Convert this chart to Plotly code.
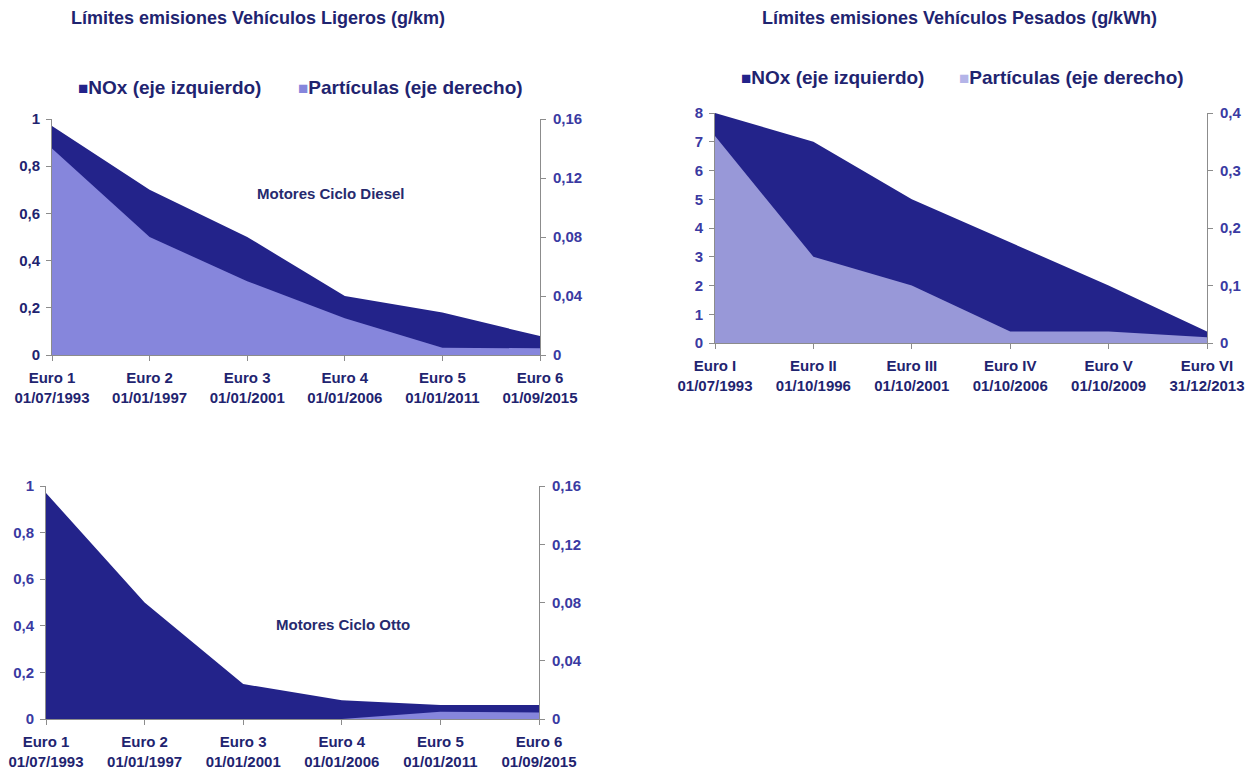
import plotly.graph_objects as go

# ---------------- data ----------------
light_cats = ["Euro 1<br>01/07/1993", "Euro 2<br>01/01/1997", "Euro 3<br>01/01/2001",
              "Euro 4<br>01/01/2006", "Euro 5<br>01/01/2011", "Euro 6<br>01/09/2015"]
heavy_cats = ["Euro I<br>01/07/1993", "Euro II<br>01/10/1996", "Euro III<br>01/10/2001",
              "Euro IV<br>01/10/2006", "Euro V<br>01/10/2009", "Euro VI<br>31/12/2013"]

diesel_nox = [0.97, 0.70, 0.50, 0.25, 0.18, 0.08]
diesel_pm = [0.14, 0.08, 0.05, 0.025, 0.005, 0.0045]

heavy_nox = [8.0, 7.0, 5.0, 3.5, 2.0, 0.4]
heavy_pm = [0.36, 0.15, 0.10, 0.02, 0.02, 0.01]

otto_nox = [0.97, 0.50, 0.15, 0.08, 0.06, 0.06]
otto_pm = [0.0, 0.0, 0.0, 0.0, 0.005, 0.0045]

title_light = "Límites emisiones Vehículos Ligeros (g/km)"
title_heavy = "Límites emisiones Vehículos Pesados (g/kWh)"
legend_nox = "NOx (eje izquierdo)"
legend_pm = "Partículas (eje derecho)"
label_diesel = "Motores Ciclo Diesel"
label_otto = "Motores Ciclo Otto"

# ---------------- styles ----------------
OFF = 8  # page body margin
W, H = 1258 - OFF, 774 - OFF
NOX_COLOR = "#23238a"
PM_LIGHT = "#8686dc"
PM_HEAVY = "#9898d8"
PM_HEAVY_LEG = "#b4b4e8"
NAVY_TXT = "#1f2470"
PURP_TXT = "#3a3aa2"
AXIS_COL = "#8c8c8c"
FONT = "Liberation Sans, Arial, sans-serif"


def px_x(x):
    return (x - OFF) / W


def px_y(y):
    return 1 - (y - OFF) / H


idx = list(range(6))
fig = go.Figure()


def add_area(y, xa, ya, color):
    fig.add_trace(go.Scatter(x=idx, y=y, xaxis=xa, yaxis=ya, mode="lines",
                             fill="tozeroy", fillcolor=color,
                             line=dict(width=0, color=color),
                             showlegend=False, hoverinfo="x+y"))


add_area(diesel_nox, "x", "y", NOX_COLOR)
add_area(diesel_pm, "x", "y2", PM_LIGHT)
add_area(heavy_nox, "x2", "y3", NOX_COLOR)
add_area(heavy_pm, "x2", "y4", PM_HEAVY)
add_area(otto_nox, "x3", "y5", NOX_COLOR)
add_area(otto_pm, "x3", "y6", PM_LIGHT)

# chart boxes in page pixels: (left, right, top, bottom)
boxes = {
    1: (52, 540, 119, 355),
    2: (715, 1207, 113, 343),
    3: (46, 539, 486, 719),
}


def xaxis_cfg(box, labels, anchor):
    l, r, t, b = box
    return dict(domain=[px_x(l), px_x(r)], range=[0, 5], tickmode="array",
                tickvals=idx, ticktext=["<b>%s</b>" % s for s in labels],
                anchor=anchor, automargin=False, ticklabelstandoff=4,
                showline=True, linecolor=AXIS_COL,
                linewidth=1, ticks="outside", ticklen=5, tickcolor=AXIS_COL,
                showgrid=False, zeroline=False, fixedrange=True,
                tickfont=dict(family=FONT, size=15, color=NAVY_TXT))


def yaxis_cfg(box, anchor, rng, dtick, color, side="left", overlay=None):
    l, r, t, b = box
    d = dict(domain=[px_y(b), px_y(t)], range=rng, dtick=dtick, tick0=0,
             anchor=anchor, side=side, automargin=False,
             ticklabelstandoff=4 if side == "right" else 3,
             showline=True, linecolor=AXIS_COL,
             linewidth=1, ticks="outside", ticklen=5, tickcolor=AXIS_COL,
             showgrid=False, zeroline=False, fixedrange=True,
             tickfont=dict(family=FONT, size=15, color=color, weight="bold"))
    if overlay:
        d["overlaying"] = overlay
    return d


fig.update_layout(
    width=W, height=H, margin=dict(l=0, r=0, t=0, b=0, autoexpand=False),
    paper_bgcolor="white", plot_bgcolor="rgba(0,0,0,0)",
    separators=",.", showlegend=False,
    xaxis=xaxis_cfg(boxes[1], light_cats, "y"),
    xaxis2=xaxis_cfg(boxes[2], heavy_cats, "y3"),
    xaxis3=xaxis_cfg(boxes[3], light_cats, "y5"),
    yaxis=yaxis_cfg(boxes[1], "x", [0, 1], 0.2, NAVY_TXT),
    yaxis2=yaxis_cfg(boxes[1], "x", [0, 0.16], 0.04, PURP_TXT, "right", "y"),
    yaxis3=yaxis_cfg(boxes[2], "x2", [0, 8], 1, PURP_TXT),
    yaxis4=yaxis_cfg(boxes[2], "x2", [0, 0.4], 0.1, PURP_TXT, "right", "y3"),
    yaxis5=yaxis_cfg(boxes[3], "x3", [0, 1], 0.2, PURP_TXT),
    yaxis6=yaxis_cfg(boxes[3], "x3", [0, 0.16], 0.04, PURP_TXT, "right", "y5"),
)

TITLE_FONT = dict(family=FONT, size=18, color=NAVY_TXT)
LEG_FONT = dict(family=FONT, size=19, color=NAVY_TXT)


def ann(text, x, y, font, xanchor="center"):
    fig.add_annotation(text=text, x=px_x(x), y=px_y(y), xref="paper", yref="paper",
                       showarrow=False, xanchor=xanchor, yanchor="middle", font=font)


ann("<b>%s</b>" % title_light, 258, 18, TITLE_FONT)
ann("<b>%s</b>" % title_heavy, 959, 18, TITLE_FONT)


def legend_item(x, y, color, text):
    ann("<span style='color:%s;font-size:17px'>■</span><b>%s</b>" % (color, text),
        x, y, LEG_FONT, "left")


legend_item(76, 88, NOX_COLOR, legend_nox)
legend_item(296, 88, PM_LIGHT, legend_pm)
legend_item(739, 77, NOX_COLOR, legend_nox)
legend_item(957, 77, PM_HEAVY_LEG, legend_pm)

LBL_FONT = dict(family=FONT, size=15, color="#262a6e")
ann("<b>%s</b>" % label_diesel, 331, 193, LBL_FONT)
ann("<b>%s</b>" % label_otto, 343, 624, LBL_FONT)

fig.write_html("out.html")
